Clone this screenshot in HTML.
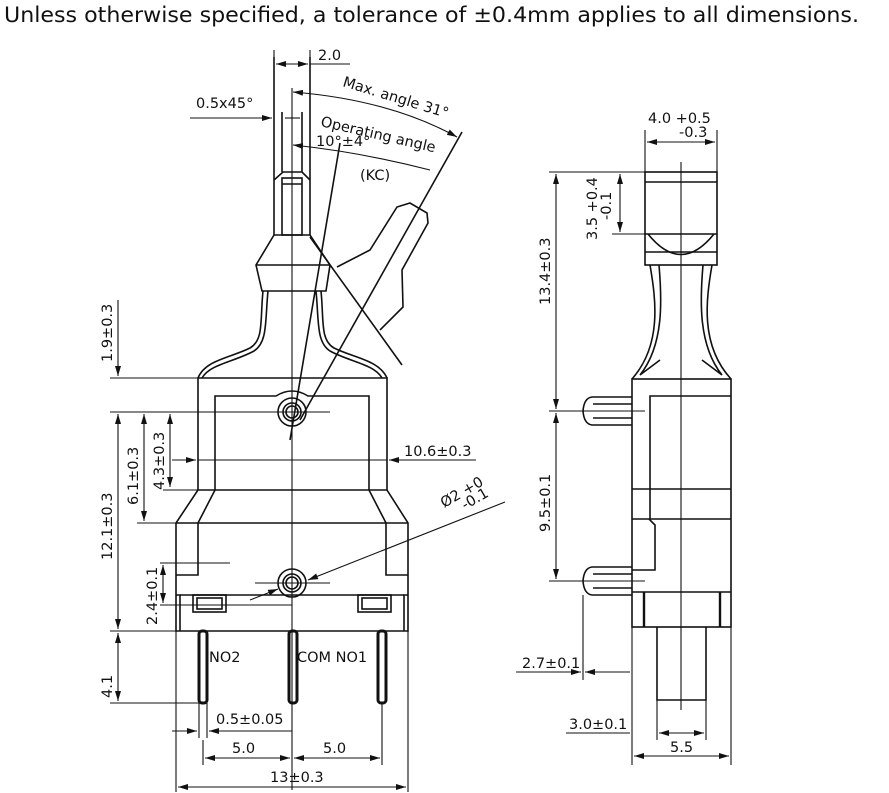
<!DOCTYPE html>
<html><head><meta charset="utf-8"><style>
html,body{margin:0;padding:0;background:#fff}
svg{display:block}
text{font-family:"DejaVu Sans","Liberation Sans",sans-serif;fill:#111}
</style></head><body>
<svg width="889" height="793" viewBox="0 0 889 793" xmlns="http://www.w3.org/2000/svg">
<defs>
<marker id="a" viewBox="0 0 10 6" refX="10" refY="3" markerWidth="10" markerHeight="6" orient="auto-start-reverse" markerUnits="userSpaceOnUse"><path d="M0,0L10,3L0,6z" fill="#111"/></marker>
</defs>
<text x="4" y="22" font-size="21" textLength="855" lengthAdjust="spacingAndGlyphs">Unless otherwise specified, a tolerance of ±0.4mm applies to all dimensions.</text>
<g stroke="#111" stroke-width="1.6" fill="none">
<line x1="274" y1="57" x2="274" y2="235"/><line x1="310" y1="57" x2="310" y2="235"/>
<line x1="282" y1="112" x2="282" y2="172"/><line x1="302" y1="112" x2="302" y2="172"/>
<path d="M274,180 L283,172 L302,172 L310,180"/>
<rect x="282" y="178" width="20" height="57"/><line x1="282" y1="184" x2="302" y2="184"/>
<path d="M274,235 L256,265 L262,291 L326,291 L330,265 L310,235 Z"/><line x1="256" y1="265" x2="330" y2="265"/>
<path d="M263,291 C260,320 264,340 250,348 C230,358 205,360 198,378"/>
<path d="M268,291 C265,320 268,342 254,351 C234,362 210,364 202,378"/>
<path d="M321,291 C324,320 320,340 334,348 C354,358 379,360 387,378"/>
<path d="M316,291 C319,320 316,342 330,351 C350,362 374,364 382,378"/>
<path d="M337,267 L370,250 L397,207 L410,203 L427,213 L428,223 L402,270 L403,307 L380,330"/>
<line x1="310" y1="237" x2="402" y2="365"/>
<line x1="462" y1="132" x2="300" y2="420"/>
<line x1="340" y1="143" x2="290" y2="440"/>
<path d="M198,378 L387,378 L387,490 L408,523 L408,631 L176,631 L176,523 L198,490 Z"/>
<path d="M215,490 L215,396 L276,396 Q292,386 308,396 L369,396 L369,490"/>
<line x1="198" y1="490" x2="387" y2="490"/>
<path d="M215,490 L198,523 L198,575 L176,575"/><path d="M369,490 L386,523 L386,575 L408,575"/>
<line x1="176" y1="523" x2="408" y2="523"/>
<path d="M176,595 L180,595 L180,631 M408,595 L404,595 L404,631"/>
<line x1="180" y1="595" x2="404" y2="595"/>
<rect x="193" y="595" width="33" height="17"/><rect x="197" y="598" width="25" height="11"/>
<rect x="358" y="595" width="33" height="17"/><rect x="362" y="598" width="25" height="11"/>
<circle cx="292" cy="412" r="14"/><circle cx="292" cy="412" r="9"/><circle cx="292" cy="412" r="6"/>
<circle cx="292" cy="583" r="14"/><circle cx="292" cy="583" r="9"/><circle cx="292" cy="583" r="6"/>
<rect x="199" y="631" width="8" height="72" rx="3" stroke-width="3"/>
<rect x="289" y="631" width="8" height="72" rx="3" stroke-width="3"/>
<rect x="378" y="631" width="8" height="72" rx="3" stroke-width="3"/>
</g>
<g stroke="#111" stroke-width="1.1" fill="none">
<line x1="292" y1="88" x2="292" y2="790"/>
<line x1="255" y1="412" x2="330" y2="412"/><line x1="255" y1="583" x2="330" y2="583"/>
<line x1="274" y1="50" x2="274" y2="57"/><line x1="310" y1="50" x2="310" y2="57"/>
<line x1="276" y1="64" x2="308" y2="64" marker-start="url(#a)" marker-end="url(#a)"/><line x1="310" y1="64" x2="350" y2="64"/>
<line x1="190" y1="118" x2="272" y2="118" marker-end="url(#a)"/><line x1="285" y1="118" x2="300" y2="118"/>
<path d="M293,92 Q390,100 457,137" marker-start="url(#a)" marker-end="url(#a)"/>
<path d="M293,145 Q360,152 430,170" marker-start="url(#a)"/>
<line x1="118" y1="300" x2="118" y2="376" marker-end="url(#a)"/>
<line x1="110" y1="378" x2="198" y2="378"/>
<line x1="110" y1="412" x2="270" y2="412"/>
<line x1="118" y1="414" x2="118" y2="629" marker-start="url(#a)" marker-end="url(#a)"/>
<line x1="144" y1="414" x2="144" y2="521" marker-start="url(#a)" marker-end="url(#a)"/>
<line x1="137" y1="523" x2="176" y2="523"/>
<line x1="170" y1="414" x2="170" y2="487" marker-start="url(#a)" marker-end="url(#a)"/>
<line x1="163" y1="490" x2="198" y2="490"/>
<line x1="172" y1="460" x2="196" y2="460" marker-end="url(#a)"/><line x1="198" y1="460" x2="387" y2="460"/>
<line x1="476" y1="460" x2="389" y2="460" marker-end="url(#a)"/>
<line x1="160" y1="563" x2="230" y2="563"/><line x1="160" y1="605" x2="292" y2="605"/>
<line x1="163" y1="565" x2="163" y2="603" marker-start="url(#a)" marker-end="url(#a)"/>
<line x1="110" y1="631" x2="176" y2="631"/>
<line x1="110" y1="703" x2="199" y2="703"/>
<line x1="118" y1="633" x2="118" y2="701" marker-start="url(#a)" marker-end="url(#a)"/>
<line x1="505" y1="502" x2="308" y2="580" marker-end="url(#a)"/>
<line x1="250" y1="600" x2="278" y2="589" marker-end="url(#a)"/>
<line x1="199" y1="703" x2="199" y2="738"/><line x1="207" y1="703" x2="207" y2="738"/>
<line x1="172" y1="731" x2="197" y2="731" marker-end="url(#a)"/><line x1="292" y1="731" x2="209" y2="731" marker-end="url(#a)"/>
<line x1="203" y1="740" x2="203" y2="765"/><line x1="382" y1="703" x2="382" y2="765"/>
<line x1="205" y1="758" x2="290" y2="758" marker-start="url(#a)" marker-end="url(#a)"/>
<line x1="294" y1="758" x2="380" y2="758" marker-start="url(#a)" marker-end="url(#a)"/>
<line x1="176" y1="631" x2="176" y2="792"/><line x1="408" y1="631" x2="408" y2="792"/>
<line x1="178" y1="787" x2="406" y2="787" marker-start="url(#a)" marker-end="url(#a)"/>
</g>
<g font-size="14.5">
<text x="318" y="60">2.0</text>
<text x="196" y="108">0.5x45°</text>
<text x="342" y="86" transform="rotate(17 342 86)">Max. angle 31°</text>
<text x="320" y="126" transform="rotate(13 320 126)">Operating angle</text>
<text x="316" y="146">10°±4°</text>
<text x="360" y="180">(KC)</text>
<text x="404" y="456">10.6±0.3</text>
<text x="444" y="508" transform="rotate(-30 444 508)">Ø2 +0</text>
<text x="465" y="510" transform="rotate(-30 465 510)">-0.1</text>
<text x="209" y="662">NO2</text>
<text x="297" y="662">COM NO1</text>
<text x="216" y="724">0.5±0.05</text>
<text x="232" y="753">5.0</text>
<text x="323" y="753">5.0</text>
<text x="270" y="782">13±0.3</text>
<text transform="translate(112 362) rotate(-90)">1.9±0.3</text>
<text transform="translate(112 560) rotate(-90)">12.1±0.3</text>
<text transform="translate(138 505) rotate(-90)">6.1±0.3</text>
<text transform="translate(164 490) rotate(-90)">4.3±0.3</text>
<text transform="translate(157 625) rotate(-90)">2.4±0.1</text>
<text transform="translate(112 698) rotate(-90)">4.1</text>
</g>
<g stroke="#111" stroke-width="1.6" fill="none">
<rect x="645" y="172" width="72" height="93"/>
<line x1="645" y1="182" x2="717" y2="182"/>
<line x1="645" y1="234" x2="717" y2="234"/>
<path d="M648,234 Q681,275 714,234"/>
<line x1="645" y1="252" x2="717" y2="252"/>
<path d="M650,265 C656,300 662,345 632,379 M659,265 C662,300 664,345 640,375 L660,360"/>
<path d="M712,265 C706,300 700,345 731,379 M703,265 C700,300 698,345 722,375 L702,360"/>
<rect x="632" y="379" width="99" height="248"/>
<path d="M731,396 L650,396 L650,519 L731,519"/>
<line x1="632" y1="489" x2="731" y2="489"/>
<path d="M632,519 L649,519 L655,525 L655,570 L632,570"/>
<line x1="632" y1="592" x2="731" y2="592"/>
<line x1="644" y1="592" x2="644" y2="627" stroke-width="2.4"/><line x1="720" y1="592" x2="720" y2="627" stroke-width="2.4"/>
<path d="M657,627 L657,700 L706,700 L706,627"/>
<path d="M632,397 L592,397 Q584,398 583,411 Q584,424 592,425 L632,425 M632,404 L593,404 M632,418 L593,418"/>
<path d="M632,567 L592,567 Q584,568 583,581 Q584,594 592,595 L632,595 M632,574 L593,574 M632,588 L593,588"/>
</g>
<g stroke="#111" stroke-width="1.1" fill="none">
<line x1="681" y1="162" x2="681" y2="710"/>
<line x1="645" y1="130" x2="645" y2="172"/><line x1="717" y1="130" x2="717" y2="172"/>
<line x1="647" y1="142" x2="715" y2="142" marker-start="url(#a)" marker-end="url(#a)"/>
<line x1="549" y1="172" x2="645" y2="172"/>
<line x1="556" y1="174" x2="556" y2="409" marker-start="url(#a)" marker-end="url(#a)"/>
<line x1="556" y1="413" x2="556" y2="579" marker-start="url(#a)" marker-end="url(#a)"/>
<line x1="549" y1="411" x2="645" y2="411"/><line x1="549" y1="581" x2="645" y2="581"/>
<line x1="620" y1="174" x2="620" y2="232" marker-start="url(#a)" marker-end="url(#a)"/>
<line x1="612" y1="234" x2="645" y2="234"/>
<line x1="583" y1="595" x2="583" y2="680"/>
<line x1="516" y1="672" x2="581" y2="672" marker-end="url(#a)"/><line x1="630" y1="672" x2="585" y2="672" marker-end="url(#a)"/>
<line x1="632" y1="627" x2="632" y2="765"/><line x1="731" y1="627" x2="731" y2="765"/>
<line x1="657" y1="700" x2="657" y2="740"/><line x1="706" y1="700" x2="706" y2="740"/>
<line x1="566" y1="733" x2="630" y2="733"/>
<line x1="659" y1="733" x2="704" y2="733" marker-start="url(#a)" marker-end="url(#a)"/>
<line x1="634" y1="756" x2="729" y2="756" marker-start="url(#a)" marker-end="url(#a)"/>
</g>
<g font-size="14.5">
<text x="648" y="123">4.0 +0.5</text>
<text x="679" y="137">-0.3</text>
<text transform="translate(550 305) rotate(-90)">13.4±0.3</text>
<text transform="translate(550 532) rotate(-90)">9.5±0.1</text>
<text transform="translate(597 240) rotate(-90)">3.5 +0.4</text>
<text transform="translate(611 220) rotate(-90)">-0.1</text>
<text x="522" y="668">2.7±0.1</text>
<text x="569" y="729">3.0±0.1</text>
<text x="670" y="752">5.5</text>
</g>
</svg>
</body></html>
